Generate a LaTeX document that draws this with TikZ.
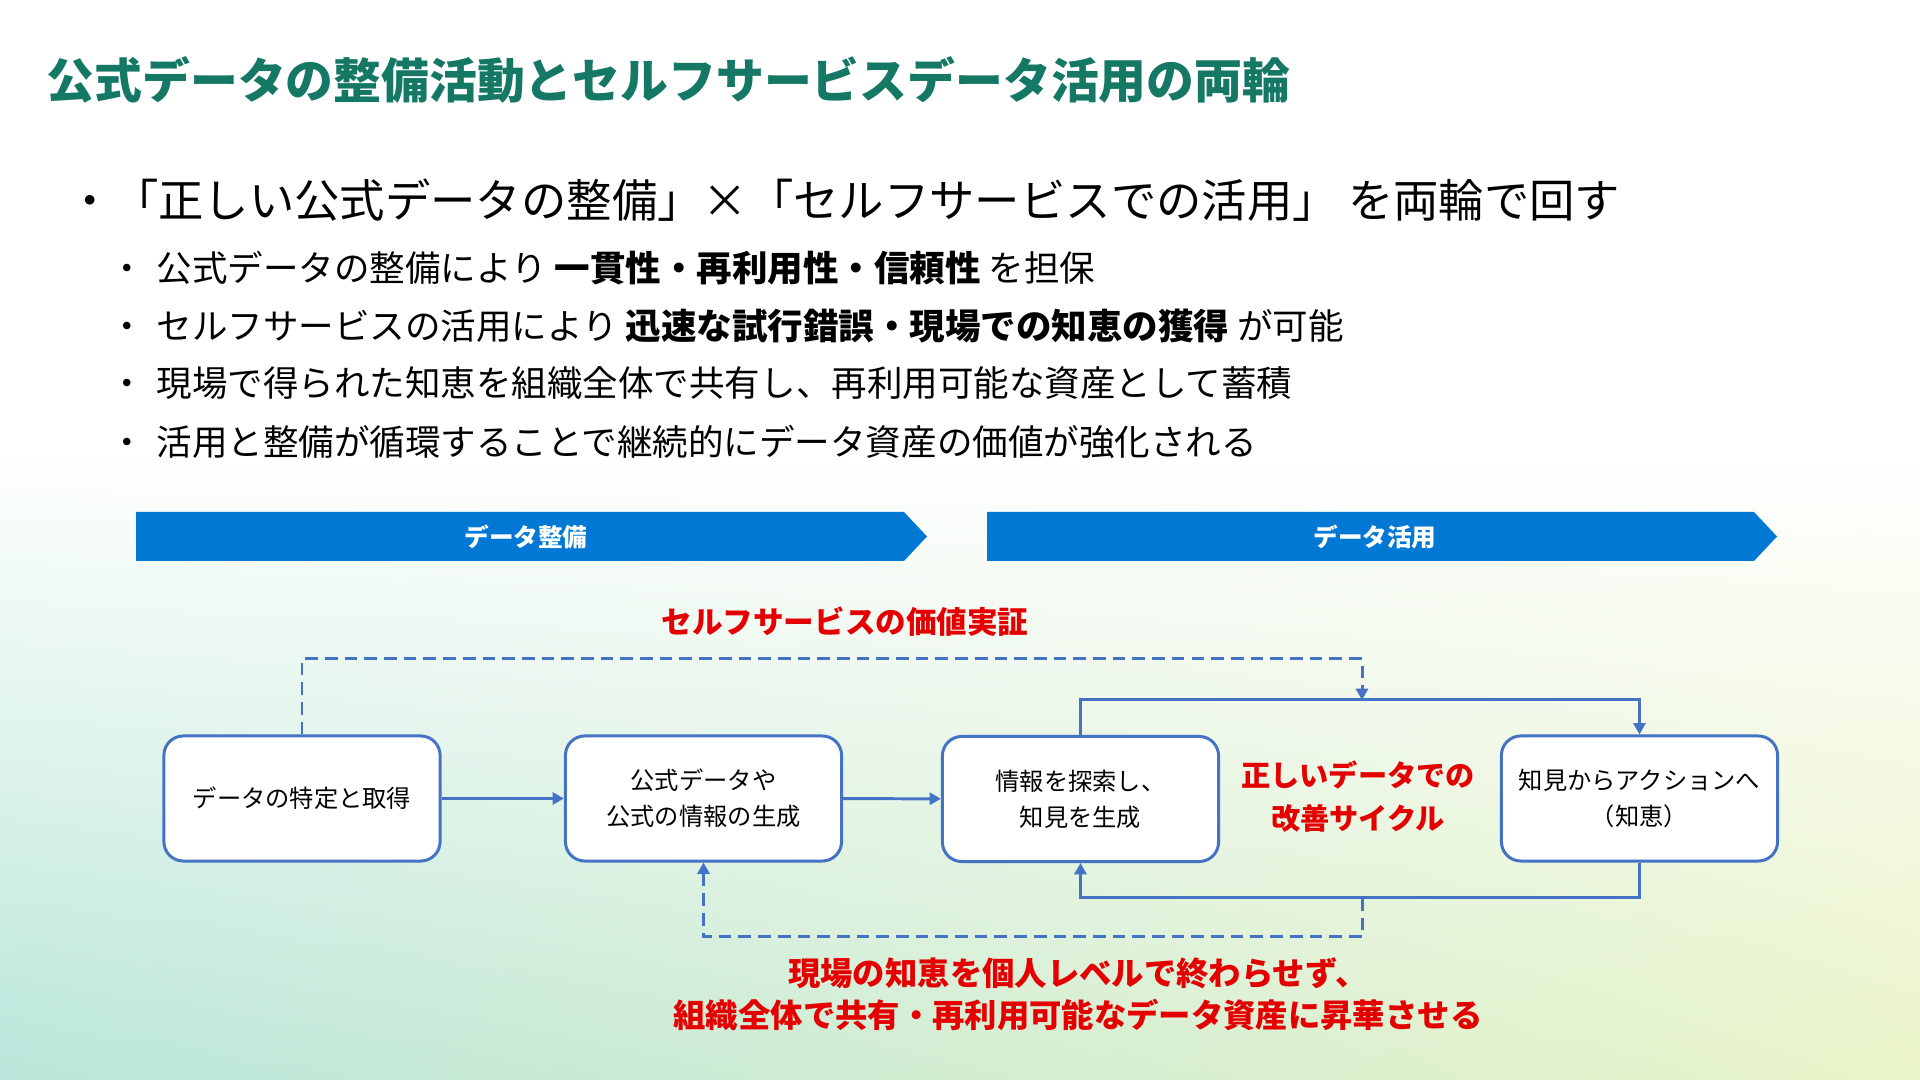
\documentclass[tikz,border=0pt]{standalone}
\usepackage{fontspec}
\setmainfont{Noto Sans CJK JP}
\usetikzlibrary{arrows.meta, positioning, shadings}

\definecolor{titlegreen}{RGB}{20,120,100}
\definecolor{bannerblue}{RGB}{0,120,212}
\definecolor{linkblue}{RGB}{68,114,196}
\definecolor{alertred}{RGB}{228,0,0}
\definecolor{bgteal}{RGB}{185,230,218}
\definecolor{bglime}{RGB}{234,244,200}

\begin{document}
\begin{tikzpicture}[
  x=0.01cm, y=-0.01cm,
  proc/.style={
    draw=linkblue, line width=0.85pt, fill=white, rounded corners=5.5pt,
    minimum width=2.76cm, minimum height=1.25cm, align=center,
    font=\fontsize{6.9}{10.2}\selectfont
  },
  flow/.style={
    draw=linkblue, line width=0.85pt, -{Triangle[length=3.2pt, width=3.4pt]}
  },
  back/.style={
    flow, dash pattern=on 3.6pt off 2pt
  },
  banner/.style={
    fill=bannerblue
  },
  bannertext/.style={
    text=white, font=\fontsize{7}{8}\selectfont\bfseries
  },
  note/.style={
    text=alertred, align=center, inner sep=0pt
  },
  sub/.style={
    anchor=west, inner sep=0pt, font=\fontsize{10.1}{12}\selectfont
  },
  subdot/.style={
    anchor=base, inner sep=0pt, font=\fontsize{10.1}{12}\selectfont
  }
]

% page and background
\useasboundingbox (0,0) rectangle (1920,1080);
\fill[white] (0,0) rectangle (1920,1080);
\shade[upper left=white, upper right=white, lower left=bgteal, lower right=bglime]
  (0,450) rectangle (1920,1080);

% title
\node[anchor=west, inner sep=0pt, text=titlegreen,
      font=\fontsize{13.6}{17}\selectfont\bfseries] (title) at (46,80)
  {公式データの整備活動とセルフサービスデータ活用の両輪};

% main bullet
\node[anchor=west, inner sep=0pt, font=\fontsize{12.9}{16}\selectfont] (lead) at (67,200)
  {・「正しい公式データの整備」×「セルフサービスでの活用」 を両輪で回す};

% sub bullets
\node[sub] (point1) at (156,268) {公式データの整備により \textbf{一貫性・再利用性・信頼性} を担保};
\node[sub] (point2) at (156,326) {セルフサービスの活用により \textbf{迅速な試行錯誤・現場での知恵の獲得} が可能};
\node[sub] (point3) at (156,383) {現場で得られた知恵を組織全体で共有し、再利用可能な資産として蓄積};
\node[sub] (point4) at (156,442) {活用と整備が循環することで継続的にデータ資産の価値が強化される};
\node[subdot] (dot1) at (127,0 |- point1.base) {・};
\node[subdot] (dot2) at (127,0 |- point2.base) {・};
\node[subdot] (dot3) at (127,0 |- point3.base) {・};
\node[subdot] (dot4) at (127,0 |- point4.base) {・};

% phase banners
\fill[banner] (136,512) -- (904,512) -- (927,536.5) -- (904,561) -- (136,561) -- cycle;
\fill[banner] (987,512) -- (1754,512) -- (1777,536.5) -- (1754,561) -- (987,561) -- cycle;
\node[bannertext] (prep) at (526,536.5) {データ整備};
\node[bannertext] (use) at (1375,536.5) {データ活用};

% process boxes
\node[proc] (acquire)  at (302,798.5)  {データの特定と取得};
\node[proc] (official) at (703.5,798.5) {公式データや\\公式の情報の生成};
\node[proc] (explore)  at (1080.5,799) {情報を探索し、\\知見を生成};
\node[proc] (action)   at (1639.5,798.5) {知見からアクションへ\\（知恵）};

% junction points
\coordinate (dashtop) at (1362,659);
\coordinate (topjoin) at (1362,700);
\coordinate (botjoin) at (1362,898);
\coordinate (dashbot) at (1362,937);

% forward flow
\draw[flow] (acquire) -- (official);
\draw[flow] (official) -- (explore);

% improvement cycle
\draw[flow] (explore.north) |- (topjoin) -| (action.north);
\draw[flow] (action.south) |- (botjoin) -| (explore.south);

% feedback (dashed)
\draw[back] (acquire.north) |- (dashtop) -- (topjoin);
\draw[back] (botjoin) -- (dashbot) -| (official.south);

% red notes
\node[note, font=\fontsize{8.7}{10}\selectfont\bfseries] (proof) at (845,622)
  {セルフサービスの価値実証};
\node[note, font=\fontsize{8.3}{12.2}\selectfont\bfseries] (cycle) at (1358,797)
  {正しいデータでの\\改善サイクル};
\node[note, font=\fontsize{9.2}{11.9}\selectfont\bfseries] (share) at (1078,994)
  {現場の知恵を個人レベルで終わらせず、\\組織全体で共有・再利用可能なデータ資産に昇華させる};

\end{tikzpicture}
\end{document}
